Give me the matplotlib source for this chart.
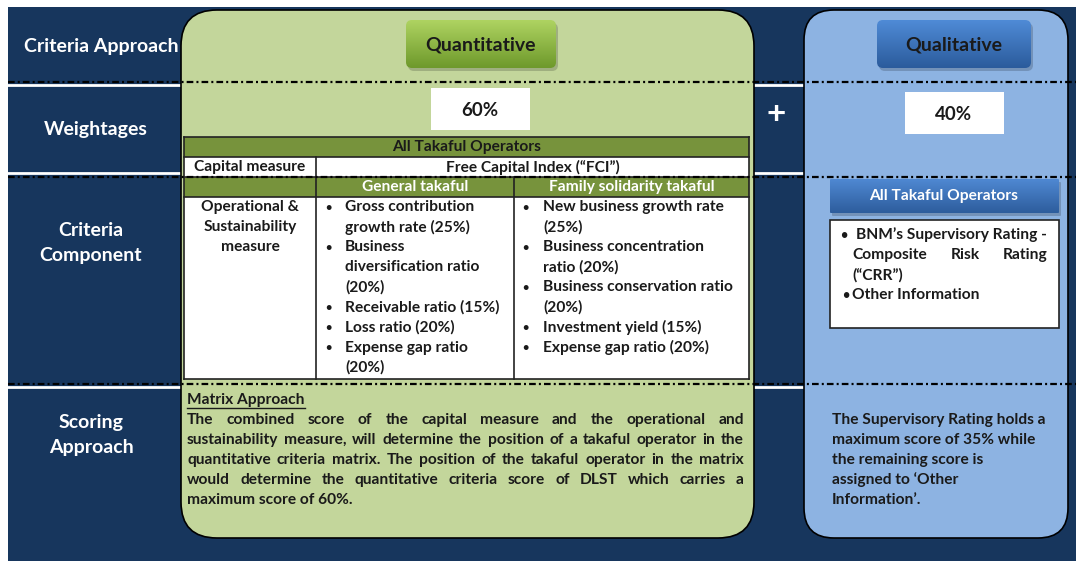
import numpy as np
import matplotlib
matplotlib.use("Agg")
import matplotlib.pyplot as plt
from matplotlib.patches import FancyBboxPatch, Rectangle
from matplotlib.colors import LinearSegmentedColormap

plt.rcParams['font.family'] = ['Lato', 'DejaVu Sans']
plt.rcParams['font.weight'] = 'bold'

# ---- content ----
row_labels = ['Criteria Approach', 'Weightages', 'Criteria\nComponent', 'Scoring\nApproach']
approaches = ['Quantitative', 'Qualitative']
weights = ['60%', '40%']
table_title = 'All Takaful Operators'
capital_label = 'Capital measure'
capital_value = 'Free Capital Index (\u201cFCI\u201d)'
segments = ['General takaful', 'Family solidarity takaful']
ops_label = 'Operational &\nSustainability\nmeasure'
general_items = ['Gross contribution\ngrowth rate (25%)',
                 'Business\ndiversification ratio\n(20%)',
                 'Receivable ratio (15%)',
                 'Loss ratio (20%)',
                 'Expense gap ratio\n(20%)']
family_items = ['New business growth rate\n(25%)',
                'Business concentration\nratio (20%)',
                'Business conservation ratio\n(20%)',
                'Investment yield (15%)',
                'Expense gap ratio (20%)']
qual_title = 'All Takaful Operators'
qual_items = [['BNM\u2019s Supervisory Rating -', 'Composite Risk Rating', '(\u201cCRR\u201d)'],
              ['Other Information']]
matrix_heading = 'Matrix Approach'
matrix_lines = ['The combined score of the capital measure and the operational and',
                'sustainability measure, will determine the position of a takaful operator in the',
                'quantitative criteria matrix. The position of the takaful operator in the matrix',
                'would determine the quantitative criteria score of DLST which carries a',
                'maximum score of 60%.']
qual_lines = ['The Supervisory Rating holds a', 'maximum score of 35% while',
              'the remaining score is', 'assigned to \u2018Other', 'Information\u2019.']

NAVY = '#17365d'
GREEN = '#c3d69b'
TGREEN = '#77933c'
BLUE = '#8db3e2'
INK = '#1a1a1a'
FS = 11.2      # body text
FL = 14        # labels / buttons

fig = plt.figure(figsize=(10.76, 5.61), dpi=100)
ax = fig.add_axes([0, 0, 1, 1])
renderer = fig.canvas.get_renderer()


def gradient_box(x, y, w, h, top, bottom, r=6, z=3, shadow=True):
    if shadow:
        ax.add_patch(FancyBboxPatch((x + 2, y + 3), w, h, boxstyle=f"round,pad=0,rounding_size={r}",
                                    fc='#000000', ec='none', alpha=0.18, zorder=z - 0.1))
    patch = FancyBboxPatch((x, y), w, h, boxstyle=f"round,pad=0,rounding_size={r}",
                           fc='none', ec='none', zorder=z)
    ax.add_patch(patch)
    cmap = LinearSegmentedColormap.from_list('g', [top, bottom])
    im = ax.imshow(np.linspace(0, 1, 64).reshape(-1, 1), extent=(x, x + w, y + h, y),
                   cmap=cmap, aspect='auto', origin='upper', zorder=z)
    im.set_clip_path(patch)


def justify(words_line, x0, x1, y, size=FS):
    words = words_line.split()
    texts = [ax.text(0, y, w, fontsize=size, color=INK, va='center', ha='left', zorder=6) for w in words]
    widths = [t.get_window_extent(renderer).width for t in texts]
    gap = (x1 - x0 - sum(widths)) / max(len(words) - 1, 1)
    x = x0
    for t, w in zip(texts, widths):
        t.set_x(x)
        x += w + gap


# background panel
ax.add_patch(Rectangle((8, 7), 1068, 554, fc=NAVY, ec='none', zorder=0))

# white separators in the navy column / gap
for y in (85, 173, 387):
    ax.plot([8, 181], [y, y], color='white', lw=2, zorder=1)
    ax.plot([754, 804], [y, y], color='white', lw=2, zorder=1)

# row labels
for lab, x, y in zip(row_labels, (101, 96, 91, 91), (46, 129, 243, 435)):
    ax.text(x, y, lab, color='white', fontsize=FL, ha='center', va='center',
            linespacing=1.55, zorder=2)

# big rounded boxes
ax.add_patch(FancyBboxPatch((181, 10), 573, 528, boxstyle="round,pad=0,rounding_size=36",
                            fc=GREEN, ec='black', lw=1.2, zorder=1))
ax.add_patch(FancyBboxPatch((804, 10), 264, 528, boxstyle="round,pad=0,rounding_size=30",
                            fc=BLUE, ec='black', lw=1.2, zorder=1))

# approach buttons
gradient_box(406, 20, 150, 48, '#aed361', '#6e992b')
gradient_box(877, 20, 154, 48, '#4f8bd6', '#2b5b9c')
ax.text(481, 45, approaches[0], fontsize=FL, color=INK, ha='center', va='center', zorder=5)
ax.text(954, 45, approaches[1], fontsize=FL, color=INK, ha='center', va='center', zorder=5)

# weights
ax.add_patch(Rectangle((431, 88), 99, 42, fc='white', ec='none', zorder=3))
ax.add_patch(Rectangle((905, 92), 99, 42, fc='white', ec='none', zorder=3))
ax.text(480, 110, weights[0], fontsize=13.5, color=INK, ha='center', va='center', zorder=5)
ax.text(954, 114, weights[1], fontsize=13.5, color=INK, ha='center', va='center', zorder=5)
ax.text(776, 114, '+', fontsize=24, color='white', ha='center', va='center', zorder=5)

# quantitative table
tx0, tx1, tx2, tx3 = 184, 316, 514, 749
ry = [137, 157, 177, 197, 379]
ax.add_patch(Rectangle((tx0, ry[0]), tx3 - tx0, 20, fc=TGREEN, ec='none', zorder=3))
ax.add_patch(Rectangle((tx0, ry[1]), tx3 - tx0, 20, fc='white', ec='none', zorder=3))
ax.add_patch(Rectangle((tx0, ry[2]), tx3 - tx0, 20, fc=TGREEN, ec='none', zorder=3))
ax.add_patch(Rectangle((tx0, ry[3]), tx3 - tx0, ry[4] - ry[3], fc='white', ec='none', zorder=3))
lk = dict(color='#222222', lw=1.2, zorder=4)
for y in ry:
    ax.plot([tx0, tx3], [y, y], **lk)
ax.plot([tx0, tx0], [ry[0], ry[4]], **lk)
ax.plot([tx3, tx3], [ry[0], ry[4]], **lk)
ax.plot([tx1, tx1], [ry[1], ry[4]], **lk)
ax.plot([tx2, tx2], [ry[2], ry[4]], **lk)

ax.text((tx0 + tx3) / 2, 147, table_title, fontsize=FS, color=INK, ha='center', va='center', zorder=5)
ax.text((tx0 + tx1) / 2, 167, capital_label, fontsize=FS, color=INK, ha='center', va='center', zorder=5)
ax.text((tx1 + tx3) / 2, 167, capital_value, fontsize=FS, color=INK, ha='center', va='center', zorder=5)
ax.text((tx1 + tx2) / 2, 187, segments[0], fontsize=FS, color='white', ha='center', va='center', zorder=5)
ax.text((tx2 + tx3) / 2, 187, segments[1], fontsize=FS, color='white', ha='center', va='center', zorder=5)
for i, line in enumerate(ops_label.split('\n')):
    ax.text((tx0 + tx1) / 2, 207 + 20 * i, line, fontsize=FS, color=INK, ha='center', va='center', zorder=5)


def bullets(items, xb, xt, y0):
    y = y0
    for item in items:
        ax.text(xb, y, '\u2022', fontsize=8, color=INK, ha='center', va='center', zorder=5)
        for line in item.split('\n'):
            ax.text(xt, y, line, fontsize=FS, color=INK, ha='left', va='center', zorder=5)
            y += 20.1


bullets(general_items, 328, 345, 207)
bullets(family_items, 525, 543, 207)

# qualitative criteria component
gradient_box(830, 179, 229, 34, '#4f88d2', '#2d5d9d', r=1, shadow=True)
ax.text(944, 196, qual_title, fontsize=FS, color='white', ha='center', va='center', zorder=5)
ax.add_patch(Rectangle((830, 220), 229, 108, fc='white', ec='#222222', lw=1.2, zorder=3))
ax.text(844, 235, '\u2022', fontsize=9, color=INK, ha='center', va='center', zorder=5)
ax.text(856, 235, qual_items[0][0], fontsize=FS, color=INK, ha='left', va='center', zorder=5)
justify(qual_items[0][1], 852, 1048, 255)
ax.text(852, 275, qual_items[0][2], fontsize=FS, color=INK, ha='left', va='center', zorder=5)
ax.text(846, 295, '\u2022', fontsize=9, color=INK, ha='center', va='center', zorder=5)
ax.text(852, 295, qual_items[1][0], fontsize=FS, color=INK, ha='left', va='center', zorder=5)

# scoring approach text
h = ax.text(187, 400, matrix_heading, fontsize=FS, color=INK, ha='left', va='center', zorder=5)
hw = h.get_window_extent(renderer).width
ax.plot([187, 187 + hw], [408, 408], color=INK, lw=1, zorder=5)
for i, line in enumerate(matrix_lines):
    y = 420 + 20 * i
    if i < len(matrix_lines) - 1:
        justify(line, 187, 744, y)
    else:
        ax.text(187, y, line, fontsize=FS, color=INK, ha='left', va='center', zorder=5)
for i, line in enumerate(qual_lines):
    ax.text(832, 420 + 20 * i, line, fontsize=FS, color=INK, ha='left', va='center', zorder=5)

# dash-dot guide lines
for y in (82, 177, 384):
    ax.plot([8, 1076], [y, y], color='black', lw=1.6, linestyle=(0, (3, 1.4, 0.9, 1.4)), zorder=4.5)

ax.set_xlim(0, 1076)
ax.set_ylim(561, 0)
ax.axis('off')
fig.savefig('out.png', dpi=100, facecolor='white')
